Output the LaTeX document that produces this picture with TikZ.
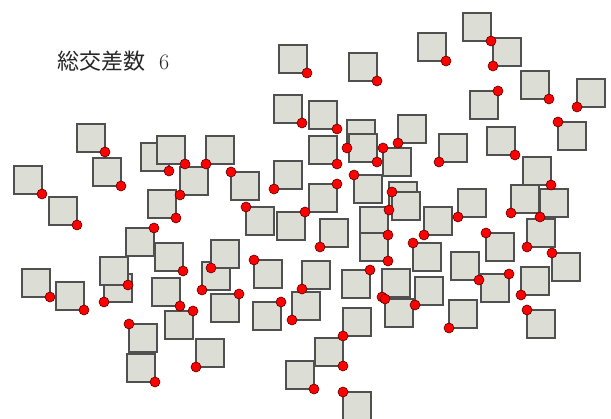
\documentclass[tikz,border=0pt]{standalone}
\usepackage{fontspec}
\newfontfamily\cjk{Noto Sans CJK JP}
\definecolor{sqfill}{HTML}{DCDDD5}
\definecolor{sqdraw}{HTML}{505050}
\definecolor{dotred}{HTML}{FF0000}
\definecolor{dotdraw}{HTML}{5A0000}
\tikzset{
  sq/.style={draw=sqdraw, fill=sqfill, line width=1.2pt, minimum size=28pt, inner sep=0pt, outer sep=0pt, anchor=north west},
  reddot/.style={circle, draw=dotdraw, fill=dotred, line width=0.6pt, minimum size=10pt, inner sep=0pt}
}
\begin{document}
\begin{tikzpicture}[x=1pt,y=-1pt]
\useasboundingbox (0,0) rectangle (611,419);
\node[anchor=base west, inner sep=0pt, text=black!85] (title) at (57,70) {\fontsize{22}{26}\selectfont{\cjk 総交差数}\hspace{14pt}6};
\def\sqlist{14/166/south east, 49/197/south east, 77/124/south east, 93/158/south east,
22/269/south east, 56/282/south east, 104/274/south west, 100/257/south east,
129/324/north west, 127/354/south east, 126/228/north east, 141/143/south east,
157/136/south east, 180/167/south west, 148/190/south east, 206/136/south west,
231/172/north west, 246/207/north west, 155/243/south east, 152/278/south east,
165/311/north east, 196/339/south west, 202/262/south west, 211/240/south west,
211/294/north east, 254/260/north west, 253/302/north east, 279/45/south east,
349/53/south east, 274/95/south east, 309/101/south east, 309/136/south east,
274/161/south west, 309/184/north east, 277/212/north east, 320/219/south west,
302/261/south west, 292/292/south west, 342/270/north east, 343/308/south west,
315/338/south east, 286/361/south east, 343/392/north west, 347/120/south west,
349/134/south east, 383/148/north west, 398/115/south west, 354/175/north west,
389/182/south west, 392/192/north west, 360/207/south east, 360/233/south east,
382/269/south west, 385/299/north west, 413/243/north west, 415/277/south west,
424/207/south west, 458/189/south west, 439/134/south west, 418/33/south east,
463/13/south east, 493/38/south west, 470/91/north east, 521/71/south east,
577/79/south west, 558/122/north west, 487/127/south east, 523/157/south east,
511/185/south west, 540/189/south west, 486/233/north west, 527/219/south west,
552/253/north west, 451/252/south east, 481/274/north east, 521/267/south west,
527/310/north west, 449/300/south west}
\foreach \x/\y/\c [count=\i] in \sqlist {
  \node[sq] (s\i) at (\x,\y) {};
}
\foreach \x/\y/\c [count=\i] in \sqlist {
  \node[reddot] (d\i) at (s\i.\c) {};
}
\end{tikzpicture}
\end{document}
